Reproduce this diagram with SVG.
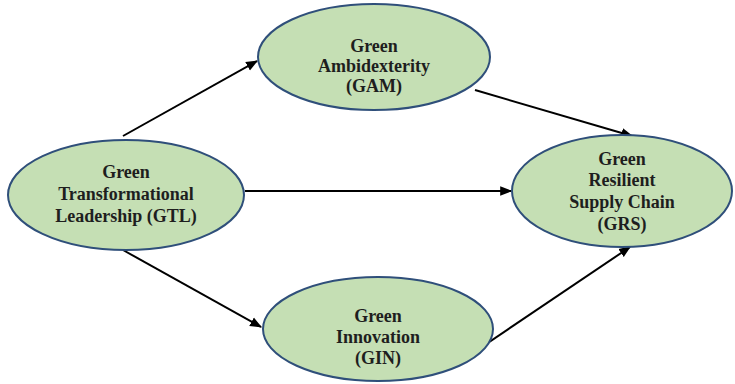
<svg xmlns="http://www.w3.org/2000/svg" width="735" height="384" viewBox="0 0 735 384">
<defs>
<style>
.node ellipse{fill:#c5dfb4;stroke:#2f4f7a;stroke-width:2}
.node text{font-family:'Liberation Serif','Times New Roman',serif;font-weight:700;font-size:18px;fill:#1e1e1e;text-anchor:middle}
.edges line{stroke:#000;stroke-width:2;marker-end:url(#ah)}
</style>
<marker id="ah" viewBox="0 0 10 10" refX="9" refY="5" markerWidth="6" markerHeight="6" orient="auto" markerUnits="strokeWidth">
<path d="M0,1 L10,5 L0,9 z" fill="#000"/>
</marker>
</defs>
<rect width="735" height="384" fill="#fff"/>
<g class="edges">
<line x1="123" y1="136" x2="257" y2="61"/>
<line x1="475" y1="90" x2="632" y2="136"/>
<line x1="245" y1="191" x2="511" y2="191"/>
<line x1="123" y1="250" x2="261" y2="327"/>
<line x1="467" y1="357" x2="630" y2="247"/>
</g>
<g id="GTL" class="node">
<ellipse cx="126" cy="195" rx="118" ry="55"/>
<text x="126" y="178">Green</text>
<text x="126" y="200">Transformational</text>
<text x="126" y="222">Leadership (GTL)</text>
</g>
<g id="GAM" class="node">
<ellipse cx="374" cy="57" rx="116" ry="53"/>
<text x="374" y="52">Green</text>
<text x="374" y="72">Ambidexterity</text>
<text x="374" y="92">(GAM)</text>
</g>
<g id="GRS" class="node">
<ellipse cx="622" cy="191" rx="110" ry="56"/>
<text x="622" y="165">Green</text>
<text x="622" y="186">Resilient</text>
<text x="622" y="208">Supply Chain</text>
<text x="622" y="230">(GRS)</text>
</g>
<g id="GIN" class="node">
<ellipse cx="378" cy="329" rx="115" ry="52"/>
<text x="378" y="322">Green</text>
<text x="378" y="343">Innovation</text>
<text x="378" y="364">(GIN)</text>
</g>
</svg>
